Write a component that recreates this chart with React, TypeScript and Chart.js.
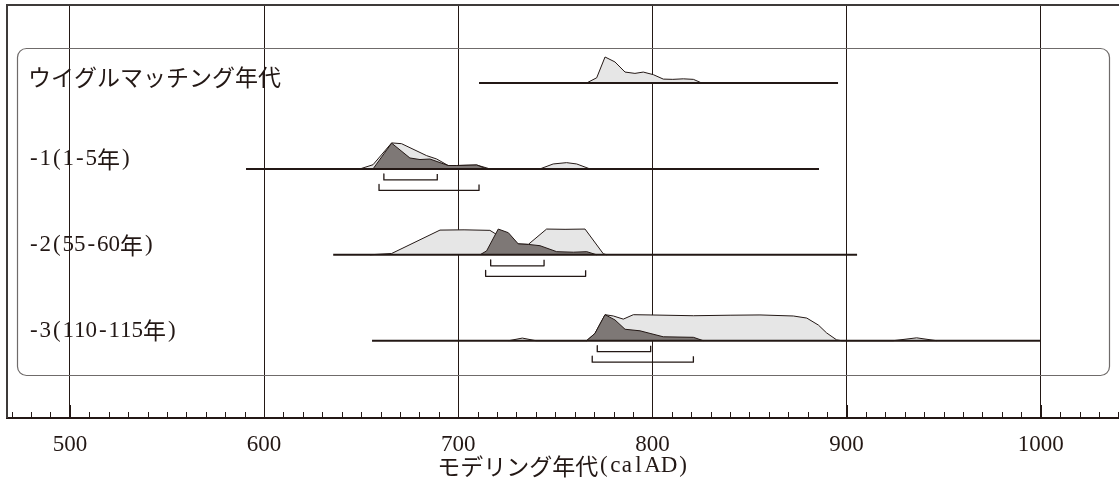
import React, { useEffect, useRef } from 'react';
import { Chart, registerables } from 'chart.js';

Chart.register(...registerables);

// ---------- data ----------
const ROW_LABELS = ['ウイグルマッチング年代', '-1(1-5年)', '-2(55-60年)', '-3(110-115年)'];
const RANGE_START = [710.7, 590.7, 635.6, 655.6];
const RANGE_END = [895.6, 885.8, 905.4, 1000];

const X_TICKS = [500, 600, 700, 800, 900, 1000];
const X_MIN = 467.6;
const X_MAX = 1040.3;
const AXIS_TITLE = 'モデリング年代(calAD)';

// light (unmodelled) distributions, relative density (peak = 1)
const LIGHT_YEARS_0 = [766.1, 771.3, 775.6, 780.7, 785.9, 791.0, 795.3, 800.5, 805.6, 810.5, 815.9, 821.1, 825.4];
const LIGHT_DENS_0 = [0, 0.2, 1.0, 0.81, 0.42, 0.37, 0.42, 0.32, 0.15, 0.14, 0.16, 0.14, 0];

const LIGHT_YEARS_1 = [649.4, 656.1, 665.7, 670.8, 683.7, 688.9, 694.8, 699.2, 709.5, 716.3, 742.1, 748.9, 755.8, 761.0, 767.8];
const LIGHT_DENS_1 = [0, 0.16, 1.0, 0.97, 0.51, 0.38, 0.13, 0.13, 0.15, 0, 0, 0.19, 0.24, 0.19, 0];

const LIGHT_YEARS_2 = [654.5, 665.7, 690.6, 703.0, 716.3, 718.9, 730.1, 736.1, 745.5, 755.0, 765.3, 774.7, 776.5];
const LIGHT_DENS_2 = [0, 0.05, 0.95, 0.96, 0.94, 0.82, 0.42, 0.4, 0.99, 0.98, 0.99, 0.04, 0];

const LIGHT_YEARS_3 = [726, 733, 740, 766.1, 770.4, 775.6, 779.9, 785.0, 790.2, 798.8, 821.1, 840.0, 855.4, 872.6, 879.5, 885.5, 889.7, 894.9, 897.5, 924, 936.1, 946.4];
const LIGHT_DENS_3 = [0, 0.1, 0, 0, 0.28, 1.0, 0.95, 0.83, 1.0, 0.99, 0.96, 0.98, 0.99, 0.95, 0.87, 0.6, 0.3, 0.03, 0, 0, 0.11, 0];

// dark (modelled) distributions
const DARK_YEARS_1 = [656.1, 665.7, 675.1, 680.3, 685.4, 694.8, 699.2, 709.5, 714.6];
const DARK_DENS_1 = [0, 0.99, 0.42, 0.36, 0.38, 0.13, 0.13, 0.15, 0];

const DARK_YEARS_2 = [711.2, 714.6, 720.6, 725.8, 730.9, 736.1, 742.1, 750.7, 759.3, 766.2, 771.3];
const DARK_DENS_2 = [0, 0.15, 0.99, 0.85, 0.42, 0.4, 0.35, 0.12, 0.1, 0.12, 0];

const DARK_YEARS_3 = [766.1, 770.4, 775.6, 780.7, 785.9, 793.6, 798.8, 805.6, 821.1, 826.2];
const DARK_DENS_3 = [0, 0.28, 1.0, 0.8, 0.44, 0.38, 0.28, 0.15, 0.13, 0];

const LIGHT_YEARS = [LIGHT_YEARS_0, LIGHT_YEARS_1, LIGHT_YEARS_2, LIGHT_YEARS_3];
const LIGHT_DENS = [LIGHT_DENS_0, LIGHT_DENS_1, LIGHT_DENS_2, LIGHT_DENS_3];
const DARK_YEARS = [null, DARK_YEARS_1, DARK_YEARS_2, DARK_YEARS_3];
const DARK_DENS = [null, DARK_DENS_1, DARK_DENS_2, DARK_DENS_3];

// highest posterior density ranges (68.2% and 95.4%)
const HPD68_START = [null, 661.7, 716.7, 771.6];
const HPD68_END = [null, 689.2, 744.2, 799.1];
const HPD95_START = [null, 659.2, 714.1, 769.0];
const HPD95_END = [null, 710.7, 765.6, 821.1];

// ---------- layout / style ----------
const W = 1119;
const H = 482;
const Y_MIN = -0.9;
const Y_MAX = 3.908;
const AREA_H = 413; // chart area height in px
const PX = (Y_MAX - Y_MIN) / AREA_H; // y units per pixel
const PEAK = 26 * PX;
const INK = '#231815';
const LIGHT_FILL = '#e6e6e6';
const DARK_FILL = '#7e7876';
const FONT_SIZE = 23;

function rowBase(i: number) {
  return ROW_LABELS.length - 1 - i;
}

function buildDatasets() {
  const ds: any[] = [];
  const common = { pointRadius: 0, tension: 0, borderJoinStyle: 'round' };
  ROW_LABELS.forEach((_, i) => {
    const base = rowBase(i);
    ds.push({
      ...common,
      label: 'range' + i,
      data: [{ x: RANGE_START[i], y: base }, { x: RANGE_END[i], y: base }],
      borderColor: INK,
      borderWidth: 2,
      fill: false,
      order: 0,
    });
    ds.push({
      ...common,
      label: 'light' + i,
      data: LIGHT_YEARS[i].map((x, k) => ({ x, y: base + LIGHT_DENS[i][k] * PEAK })),
      borderColor: INK,
      borderWidth: 1,
      backgroundColor: LIGHT_FILL,
      fill: { value: base },
      order: 3,
    });
    const dy = DARK_YEARS[i];
    const dd = DARK_DENS[i];
    if (dy && dd) {
      ds.push({
        ...common,
        label: 'dark' + i,
        data: dy.map((x, k) => ({ x, y: base + dd[k] * PEAK })),
        borderColor: INK,
        borderWidth: 1,
        backgroundColor: DARK_FILL,
        fill: { value: base },
        order: 2,
      });
    }
    const brackets: [number | null, number | null, number][] = [
      [HPD68_START[i], HPD68_END[i], 11],
      [HPD95_START[i], HPD95_END[i], 21.5],
    ];
    brackets.forEach(([s, e, off], b) => {
      if (s == null || e == null) return;
      const yb = base - off * PX;
      const yt = yb + 6 * PX;
      ds.push({
        ...common,
        label: 'hpd' + b + '-' + i,
        data: [{ x: s, y: yt }, { x: s, y: yb }, { x: e, y: yb }, { x: e, y: yt }],
        borderColor: INK,
        borderWidth: 1.3,
        fill: false,
        order: 0,
      });
    });
  });
  return ds;
}

// fixed-pitch Japanese style: full-width cells for CJK, at least half-width for Latin
function isWide(ch: string) {
  return /[\u3000-\u9fff\uff00-\uffef]/.test(ch);
}
function fontFor(ch: string, size: number) {
  return isWide(ch) ? `${size}px "Noto Sans CJK JP"` : `${size}px "Liberation Serif"`;
}
function advance(ctx: CanvasRenderingContext2D, ch: string, size: number) {
  if (isWide(ch)) return size;
  ctx.font = fontFor(ch, size);
  return Math.max(size / 2, ctx.measureText(ch).width);
}
function textWidth(ctx: CanvasRenderingContext2D, text: string, size: number) {
  return Array.from(text).reduce((w, ch) => w + advance(ctx, ch, size), 0);
}
function drawPitched(ctx: CanvasRenderingContext2D, text: string, x0: number, y: number, size: number) {
  let cx = x0;
  ctx.textBaseline = 'middle';
  ctx.textAlign = 'center';
  for (const ch of Array.from(text)) {
    const adv = advance(ctx, ch, size);
    ctx.font = fontFor(ch, size);
    ctx.fillText(ch, cx + adv / 2, y);
    cx += adv;
  }
}

const decorPlugin = {
  id: 'decor',
  beforeDatasetsDraw(chart: any) {
    const ctx = chart.ctx;
    ctx.save();
    ctx.strokeStyle = '#6f6b6a';
    ctx.lineWidth = 1.2;
    ctx.beginPath();
    (ctx as any).roundRect(17.5, 48.5, 1092, 327, 9);
    ctx.stroke();
    ctx.restore();
  },
  afterDatasetsDraw(chart: any) {
    const ctx = chart.ctx;
    const y = chart.scales.y;
    ctx.save();
    ctx.fillStyle = INK;
    ROW_LABELS.forEach((label, i) => {
      const py = y.getPixelForValue(rowBase(i)) - (i === 0 ? 6 : 10);
      drawPitched(ctx, label, 28, py, FONT_SIZE);
    });
    ctx.restore();
  },
  afterDraw(chart: any) {
    const ctx = chart.ctx;
    const { left, top, right, bottom } = chart.chartArea;
    const x = chart.scales.x;
    ctx.save();
    ctx.strokeStyle = INK;
    ctx.lineWidth = 1;
    for (let v = 470; v <= 1040; v += 10) {
      const px = Math.round(x.getPixelForValue(v)) + 0.5;
      const len = v % 100 === 0 ? 13 : 6;
      ctx.beginPath();
      ctx.moveTo(px, bottom);
      ctx.lineTo(px, bottom - len);
      ctx.stroke();
    }
    ctx.strokeStyle = '#3e3a39';
    ctx.lineWidth = 2;
    ctx.beginPath();
    ctx.moveTo(left, bottom);
    ctx.lineTo(left, top);
    ctx.lineTo(right, top);
    ctx.stroke();
    // axis title
    ctx.fillStyle = INK;
    const tw = textWidth(ctx, AXIS_TITLE, FONT_SIZE);
    const cxm = (x.left + x.right) / 2;
    drawPitched(ctx, AXIS_TITLE, cxm - tw / 2, 466, FONT_SIZE);
    ctx.restore();
  },
};

export default function App() {
  const ref = useRef<HTMLCanvasElement>(null);
  useEffect(() => {
    if (!ref.current) return;
    const chart = new Chart(ref.current, {
      type: 'line',
      data: { datasets: buildDatasets() },
      options: {
        animation: false,
        responsive: false,
        maintainAspectRatio: false,
        layout: { padding: { left: 7, top: 5, right: 0, bottom: 0 } },
        plugins: {
          legend: { display: false },
          tooltip: { enabled: false },
          title: { display: false },
        },
        scales: {
          x: {
            type: 'linear',
            min: X_MIN,
            max: X_MAX,
            z: 1,
            afterFit: (s: any) => {
              s.height = 64;
            },
            afterBuildTicks: (s: any) => {
              s.ticks = X_TICKS.map((v) => ({ value: v }));
            },
            grid: { color: INK, lineWidth: 1, drawTicks: false },
            border: { display: true, color: INK, width: 2 },
            ticks: {
              color: INK,
              font: { family: '"Liberation Serif"', size: FONT_SIZE },
              padding: 13,
              maxRotation: 0,
              autoSkip: false,
              callback: (v: any) => String(v),
            },
            title: { display: false },
          },
          y: { type: 'linear', display: false, min: Y_MIN, max: Y_MAX },
        },
      },
      plugins: [decorPlugin],
    } as any);
    return () => chart.destroy();
  }, []);
  return (
    <div style={{ position: 'absolute', left: 0, top: 0, width: W, height: H, background: '#fff' }}>
      <canvas ref={ref} width={W} height={H} style={{ display: 'block' }} />
    </div>
  );
}
